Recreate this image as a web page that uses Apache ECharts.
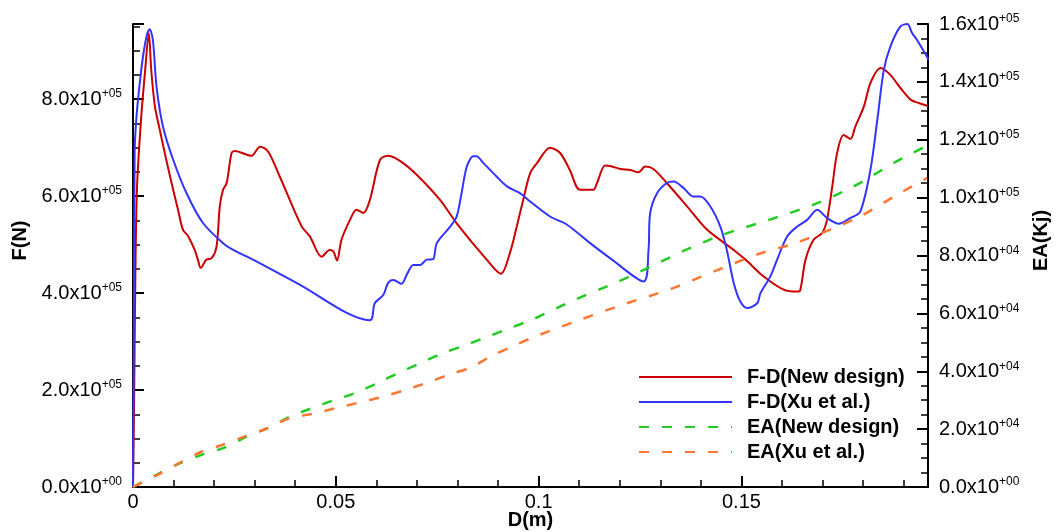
<!DOCTYPE html>
<html>
<head>
<meta charset="utf-8">
<title>F-D and EA curves</title>
<script src="https://cdn.jsdelivr.net/npm/echarts@6/dist/echarts.min.js"></script>
<style>
  html, body { margin: 0; padding: 0; background: #fff; }
  #chart { width: 1057px; height: 532px; }
</style>
</head>
<body>
<div id="chart"></div>
<script>
// series names (legend order)
var seriesNames = ['F-D(New design)', 'F-D(Xu et al.)', 'EA(New design)', 'EA(Xu et al.)'];
var xTicks = [0, 0.05, 0.1, 0.15];

// F-D, new design : displacement (m) / force (N)
var redD = [0, 0.0003, 0.0006, 0.0010, 0.0020, 0.0030, 0.0039, 0.0045, 0.0054, 0.0066, 0.0082, 0.0099,
    0.0111, 0.0123, 0.0136, 0.0152, 0.0160, 0.0167, 0.0181, 0.0194, 0.0206, 0.0214, 0.0222, 0.0231,
    0.0243, 0.0251, 0.0292, 0.0313, 0.0333, 0.0362, 0.0416, 0.0436, 0.0465, 0.0485, 0.0494, 0.0503,
    0.0514, 0.0535, 0.0551, 0.0568, 0.0584, 0.0609, 0.0629, 0.0666, 0.0708, 0.0757, 0.0798, 0.0872,
    0.0907, 0.0929, 0.0946, 0.0962, 0.0979, 0.0996, 0.1028, 0.1053, 0.1077, 0.1102, 0.1135, 0.1144,
    0.1164, 0.1181, 0.1201, 0.1226, 0.1246, 0.1263, 0.1283, 0.1316, 0.1366, 0.1415, 0.1481, 0.1510,
    0.1555, 0.1604, 0.1637, 0.1645, 0.1658, 0.1678, 0.1699, 0.1711, 0.1724, 0.1736, 0.1752, 0.1769,
    0.1781, 0.1802, 0.1818, 0.1843, 0.1867, 0.1892, 0.1917, 0.1937, 0.1960];
var redF = [0, 2.0e5, 4.5e5, 6.2e5, 7.6e5, 8.6e5, 9.36e5, 8.6e5, 7.85e5, 7.37e5, 6.75e5, 6.13e5,
    5.72e5, 5.31e5, 5.17e5, 4.89e5, 4.69e5, 4.52e5, 4.69e5, 4.72e5, 4.96e5, 5.79e5, 6.13e5, 6.27e5,
    6.89e5, 6.93e5, 6.83e5, 7.02e5, 6.92e5, 6.40e5, 5.37e5, 5.17e5, 4.75e5, 4.89e5, 4.86e5, 4.67e5,
    5.10e5, 5.51e5, 5.72e5, 5.65e5, 5.92e5, 6.75e5, 6.83e5, 6.68e5, 6.37e5, 5.92e5, 5.44e5, 4.69e5,
    4.40e5, 4.82e5, 5.37e5, 5.92e5, 6.47e5, 6.68e5, 7.00e5, 6.89e5, 6.54e5, 6.13e5, 6.13e5, 6.27e5,
    6.63e5, 6.61e5, 6.56e5, 6.54e5, 6.49e5, 6.61e5, 6.56e5, 6.27e5, 5.79e5, 5.31e5, 4.89e5, 4.69e5,
    4.34e5, 4.07e5, 4.03e5, 4.06e5, 4.69e5, 5.10e5, 5.24e5, 5.51e5, 6.20e5, 6.89e5, 7.26e5, 7.18e5,
    7.44e5, 7.85e5, 8.33e5, 8.64e5, 8.50e5, 8.23e5, 7.99e5, 7.92e5, 7.86e5];

// F-D, Xu et al.
var blueD = [0, 0.0002, 0.0004, 0.0008, 0.0015, 0.0025, 0.0035, 0.0041, 0.0049, 0.0058, 0.0074, 0.0099,
    0.0132, 0.0173, 0.0222, 0.0247, 0.0296, 0.0403, 0.0584, 0.0596, 0.0617, 0.0629, 0.0642, 0.0662,
    0.0675, 0.0691, 0.0708, 0.0724, 0.0740, 0.0749, 0.0782, 0.0798, 0.0810, 0.0823, 0.0839, 0.0847,
    0.0864, 0.0897, 0.0922, 0.0954, 0.0979, 0.1028, 0.1070, 0.1127, 0.1181, 0.1259, 0.1271, 0.1275,
    0.1292, 0.1316, 0.1333, 0.1357, 0.1382, 0.1399, 0.1423, 0.1448, 0.1464, 0.1481, 0.1497, 0.1514,
    0.1539, 0.1547, 0.1571, 0.1588, 0.1613, 0.1637, 0.1662, 0.1687, 0.1711, 0.1740, 0.1769, 0.1793,
    0.1818, 0.1835, 0.1851, 0.1867, 0.1892, 0.1909, 0.1921, 0.1933, 0.1962];
var blueF = [0, 3.0e5, 6.9e5, 7.57e5, 8.2e5, 8.9e5, 9.35e5, 9.44e5, 9.22e5, 8.26e5, 7.43e5, 6.75e5,
    6.06e5, 5.44e5, 5.03e5, 4.89e5, 4.69e5, 4.21e5, 3.44e5, 3.79e5, 3.96e5, 4.21e5, 4.27e5, 4.19e5,
    4.38e5, 4.58e5, 4.58e5, 4.69e5, 4.70e5, 5.03e5, 5.37e5, 5.58e5, 6.06e5, 6.61e5, 6.82e5, 6.82e5,
    6.68e5, 6.40e5, 6.20e5, 6.06e5, 5.89e5, 5.58e5, 5.41e5, 5.03e5, 4.69e5, 4.24e5, 4.89e5, 5.65e5,
    6.06e5, 6.27e5, 6.30e5, 6.17e5, 5.99e5, 5.99e5, 5.79e5, 5.37e5, 4.89e5, 4.21e5, 3.83e5, 3.69e5,
    3.79e5, 4.00e5, 4.34e5, 4.69e5, 5.17e5, 5.37e5, 5.51e5, 5.72e5, 5.55e5, 5.43e5, 5.55e5, 5.68e5,
    6.54e5, 7.57e5, 8.60e5, 9.08e5, 9.50e5, 9.55e5, 9.36e5, 9.22e5, 8.81e5];

// EA, new design : displacement (m) / energy (Kj)
var greenD = [0, 0.0060, 0.0117, 0.0171, 0.0224, 0.0278, 0.0331, 0.0387, 0.0440, 0.0495, 0.0547, 0.0601,
    0.0654, 0.0707, 0.0761, 0.0819, 0.0872, 0.0925, 0.0985, 0.1084, 0.1193, 0.1300, 0.1357, 0.1456,
    0.1563, 0.1678, 0.1777, 0.1876, 0.1958];
var greenEA = [0, 4.4e3, 8.3e3, 1.12e4, 1.35e4, 1.72e4, 2.03e4, 2.43e4, 2.72e4, 3.00e4, 3.24e4, 3.58e4,
    3.94e4, 4.27e4, 4.61e4, 4.90e4, 5.18e4, 5.47e4, 5.79e4, 6.44e4, 7.08e4, 7.77e4, 8.16e4, 8.73e4,
    9.21e4, 9.76e4, 1.039e5, 1.12e5, 1.18e5];

// EA, Xu et al.
var orangeD = [0, 0.0062, 0.0114, 0.0166, 0.0221, 0.0276, 0.0331, 0.0387, 0.0443, 0.0498, 0.0555, 0.0611,
    0.0671, 0.0724, 0.0777, 0.0835, 0.0887, 0.0942, 0.0993, 0.1102, 0.1213, 0.1325, 0.1436, 0.1542,
    0.1637, 0.1785, 0.1884, 0.1958];
var orangeEA = [0, 4.3e3, 8.3e3, 1.2e4, 1.46e4, 1.75e4, 2.03e4, 2.38e4, 2.53e4, 2.72e4, 2.91e4, 3.10e4,
    3.35e4, 3.60e4, 3.87e4, 4.15e4, 4.55e4, 4.90e4, 5.21e4, 5.78e4, 6.33e4, 6.84e4, 7.47e4, 8.05e4,
    8.45e4, 9.30e4, 1.01e5, 1.068e5];

var colors = ['#cc0000', '#3333ff', '#22cc22', '#ff7733'];
var FONT = 'Liberation Sans';

function pairs(xs, ys) {
    var out = [];
    for (var i = 0; i < xs.length; i++) out.push([xs[i], ys[i]]);
    return out;
}

// 8.0x10^+05 style labels
function sci(v) {
    if (v === 0) return '{m|0.0x10}{e|+00}';
    var e = Math.floor(Math.log10(v) + 1e-9);
    var m = (v / Math.pow(10, e)).toFixed(1);
    return '{m|' + m + 'x10}{e|+' + (e < 10 ? '0' : '') + e + '}';
}

var richSci = {
    m: { fontSize: 20, fontFamily: FONT, color: '#000', lineHeight: 22 },
    e: { fontSize: 12, fontFamily: FONT, color: '#000', lineHeight: 12, verticalAlign: 'top' }
};

function yAxisOpt(pos, max, interval, name) {
    return {
        type: 'value',
        position: pos,
        min: 0,
        max: max,
        interval: interval,
        name: name,
        nameLocation: 'middle',
        nameRotate: 90,
        nameGap: 103,
        nameTextStyle: { fontFamily: FONT, fontSize: 20, fontWeight: 'bold', color: '#000', padding: [0, 0, 0, 30] },
        axisLine: { show: true, lineStyle: { color: '#000', width: 2 } },
        axisTick: { show: true, inside: true, length: 11, lineStyle: { color: '#000', width: 2 } },
        minorTick: { show: true, splitNumber: 4, length: 7, lineStyle: { color: '#000', width: 1.5 } },
        splitLine: { show: false },
        axisLabel: {
            margin: 11,
            formatter: function (v) {
                return Math.abs(v / interval - Math.round(v / interval)) < 1e-6 ? sci(v) : '';
            },
            rich: richSci
        }
    };
}

var option = {
    backgroundColor: '#fff',
    animation: false,
    color: colors,
    grid: { left: 133, right: 129, top: 24, bottom: 45, containLabel: false, outerBoundsMode: 'none' },
    legend: {
        data: seriesNames,
        orient: 'vertical',
        left: 638,
        top: 367,
        padding: 0,
        itemWidth: 93,
        itemHeight: 14,
        itemGap: 5,
        itemStyle: { color: 'rgba(0,0,0,0)', borderWidth: 0, opacity: 0 },
        textStyle: { fontFamily: FONT, fontSize: 20, fontWeight: 'bold', color: '#000', lineHeight: 20, padding: [0, 0, 0, 10] }
    },
    xAxis: {
        type: 'value',
        min: 0,
        max: 0.196,
        interval: 0.05,
        name: 'D(m)',
        nameLocation: 'middle',
        nameGap: 23,
        nameMoveOverlap: false,
        nameTextStyle: { fontFamily: FONT, fontSize: 20, fontWeight: 'bold', color: '#000' },
        axisLine: { show: true, onZero: false, lineStyle: { color: '#000', width: 2 } },
        axisTick: { show: true, inside: true, length: 11, lineStyle: { color: '#000', width: 2 } },
        minorTick: { show: true, splitNumber: 5, length: 7, lineStyle: { color: '#000', width: 1.5 } },
        splitLine: { show: false },
        axisLabel: {
            margin: 5,
            showMaxLabel: false,
            fontFamily: FONT,
            fontSize: 20,
            color: '#000',
            formatter: function (v) {
                for (var i = 0; i < xTicks.length; i++) {
                    if (Math.abs(v - xTicks[i]) < 1e-9) return String(xTicks[i]);
                }
                return '';
            }
        }
    },
    yAxis: [
        yAxisOpt('left', 955000, 200000, 'F(N)'),
        yAxisOpt('right', 160000, 20000, 'EA(Kj)')
    ],
    series: [
        {
            name: seriesNames[0], type: 'line', yAxisIndex: 0, symbol: 'none', smooth: 0.3,
            lineStyle: { color: colors[0], width: 2 },
            data: pairs(redD, redF)
        },
        {
            name: seriesNames[1], type: 'line', yAxisIndex: 0, symbol: 'none', smooth: 0.3,
            lineStyle: { color: colors[1], width: 2 },
            data: pairs(blueD, blueF)
        },
        {
            name: seriesNames[2], type: 'line', yAxisIndex: 1, symbol: 'none', smooth: 0.3,
            lineStyle: { color: colors[2], width: 2.5, type: [10, 13] },
            data: pairs(greenD, greenEA)
        },
        {
            name: seriesNames[3], type: 'line', yAxisIndex: 1, symbol: 'none', smooth: 0.3,
            lineStyle: { color: colors[3], width: 2.5, type: [10, 13] },
            data: pairs(orangeD, orangeEA)
        }
    ]
};

echarts.init(document.getElementById('chart')).setOption(option);
</script>
</body>
</html>
